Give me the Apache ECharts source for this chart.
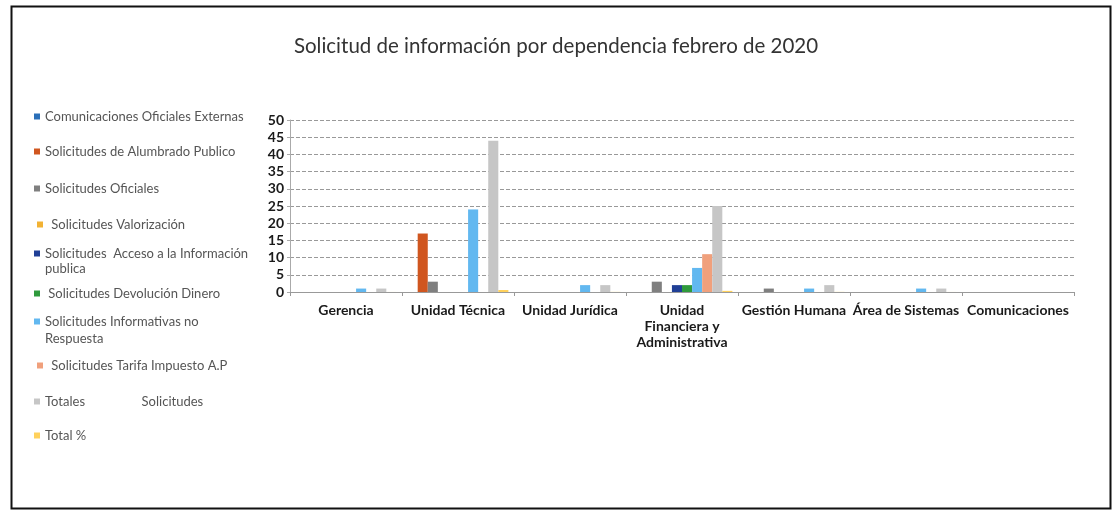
<!DOCTYPE html>
<html><head><meta charset="utf-8">
<script src="https://cdn.jsdelivr.net/npm/echarts@6/dist/echarts.min.js"></script>
<style>html,body{margin:0;padding:0;background:#fff;}#c{width:1112px;height:514px;}</style>
</head><body><div id="c"></div>
<script>
const categories = ['Gerencia','Unidad Técnica','Unidad Jurídica','Unidad Financiera y Administrativa','Gestión Humana','Área de Sistemas','Comunicaciones'];
const seriesNames = ['Comunicaciones Oficiales Externas','Solicitudes de Alumbrado Publico','Solicitudes Oficiales','Solicitudes Valorización','Solicitudes  Acceso a la Información publica','Solicitudes Devolución Dinero','Solicitudes Informativas no Respuesta','Solicitudes Tarifa Impuesto A.P','Totales','Total %'];
const comunicacionesOficiales = [0,0,0,0,0,0,0];
const alumbrado = [0,17,0,0,0,0,0];
const oficiales = [0,3,0,3,1,0,0];
const valorizacion = [0,0,0,0,0,0,0];
const accesoInfo = [0,0,0,2,0,0,0];
const devolucion = [0,0,0,2,0,0,0];
const informativas = [1,24,2,7,1,1,0];
const tarifa = [0,0,0,11,0,0,0];
const totales = [1,44,2,25,2,1,0];
const totalPct = [0.01,0.59,0.03,0.33,0.03,0.01,0];
const yTicks = {min:0, max:50, interval:5};

const values = [comunicacionesOficiales, alumbrado, oficiales, valorizacion, accesoInfo, devolucion, informativas, tarifa, totales, totalPct];
const colors = ['#2a6fb8','#d0561f','#7f7f7f','#f2b233','#203f96','#2f9a3c','#62b8f0','#f0a07c','#c6c6c6','#ffd15c'];
const legendLabels = ['Comunicaciones Oficiales Externas','Solicitudes de Alumbrado Publico','Solicitudes Oficiales',' Solicitudes Valorización','Solicitudes  Acceso a la Información',' Solicitudes Devolución Dinero','Solicitudes Informativas no',' Solicitudes Tarifa Impuesto A.P','Totales                 Solicitudes','Total %'];
const legendY = [118,153,190,226,255,295,323,367,403,437];
const contLines = [{t:'publica', y:270},{t:'Respuesta', y:340}];

const chart = echarts.init(document.getElementById('c'));
const font = 'Lato, "Open Sans", sans-serif';
chart.setOption({
  animation:false,
  backgroundColor:'#fff',
  title:{text:'Solicitud de información por dependencia febrero de 2020', left:'center', top:31,
    textStyle:{fontFamily:font, fontSize:20.5, fontWeight:'normal', color:'#333'}},
  legend: seriesNames.map((n,i)=>({
    data:[n], left: (i===3||i===7)?37:34, top: legendY[i]-8, itemWidth:6, itemHeight:6, icon:'rect',
    selectedMode:false, padding:0,
    formatter:()=>legendLabels[i],
    textStyle:{fontFamily:font, fontSize:13, color:'#555'}
  })),
  graphic:[
    {type:'rect', left:9, top:4, shape:{width:1099, height:502}, style:{fill:'none', stroke:'#111', lineWidth:2}, silent:true},
    ...contLines.map(c=>({type:'text', left:45, top:c.y-8, style:{text:c.t, font:'13px '+font, fill:'#555'}}))
  ],
  grid:{left:290, right:38, top:120, bottom:222, containLabel:false},
  xAxis:{type:'category', data:categories,
    axisLine:{lineStyle:{color:'#999'}}, axisTick:{show:true, length:4, lineStyle:{color:'#999'}},
    axisLabel:{fontFamily:font, fontSize:14, fontWeight:'bold', color:'#1a1a1a', interval:0, margin:10,
      formatter:v=> v==='Unidad Financiera y Administrativa' ? 'Unidad\nFinanciera y\nAdministrativa' : v,
      lineHeight:16}},
  yAxis:{type:'value', min:yTicks.min, max:yTicks.max, interval:yTicks.interval,
    axisLine:{show:true, lineStyle:{color:'#aaa'}}, axisTick:{show:true, length:3, lineStyle:{color:'#aaa'}},
    splitLine:{lineStyle:{color:'#999', type:'dashed', width:1}},
    axisLabel:{fontFamily:font, fontSize:14, fontWeight:'bold', color:'#1a1a1a', margin:6}},
  series: seriesNames.map((n,i)=>({
    name:n, type:'bar', data:values[i], barGap:'0%', barCategoryGap:'10%',
    itemStyle:{color:colors[i]}
  }))
});
</script></body></html>
